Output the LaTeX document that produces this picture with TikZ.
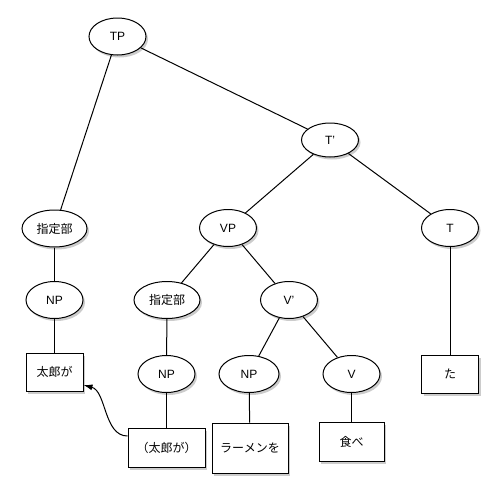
\documentclass[tikz,border=0pt]{standalone}
\usepackage{fontspec}
\setmainfont{Liberation Sans}
\newfontfamily\jp{Noto Sans CJK JP}
\usetikzlibrary{arrows.meta,shapes.geometric,shadows}

\begin{document}
\begin{tikzpicture}
[x=1pt,y=-1pt,>={Latex[length=9pt,width=6pt]},line width=1pt,
  phrase/.style={ellipse,draw,fill=white,inner sep=0pt,minimum width=57pt,minimum height=37pt,
    font=\fontsize{12}{14}\selectfont,drop shadow={shadow xshift=2pt,shadow yshift=-2.5pt,opacity=0.4}},
  word/.style={rectangle,draw,fill=white,inner sep=0pt,minimum width=57pt,minimum height=38pt,
    font=\jp\fontsize{12}{14}\selectfont,drop shadow={shadow xshift=2pt,shadow yshift=-2.5pt,opacity=0.4}}]

  \useasboundingbox (0,0) rectangle (500,498);

  \node[phrase] (tp) at 		(117.5,36.5) 	{TP};
  \node[phrase,minimum height=34pt] (tbar) at 	(330,140) 	{T'};

  \node[phrase,minimum width=65pt] (spec1) at 	(54.5,228.5) 	{\jp 指定部};
  \node[phrase] (np1) at 		(54.5,300) 	{NP};
  \node[word] (taro) at 		(54.5,372) 	{太郎が};

  \node[phrase] (vp) at 		(228,228) 	{VP};
  \node[phrase] (t) at 			(450,228) 	{T};
  \node[word] (ta) at 			(450,374) 	{た};

  \node[phrase,minimum width=66pt] (spec2) at 	(167,300) 	{\jp 指定部};
  \node[phrase] (vbar) at 		(289,300) 	{V'};
  \node[phrase] (np2) at 		(166.5,374) 	{NP};
  \node[phrase,minimum width=60pt] (np3) at 	(249,374) 	{NP};
  \node[phrase] (v) at 			(351.5,374) 	{V};

  \node[word,minimum width=77pt,minimum height=39pt] (copy) at 	(166.5,447.5) 	{（太郎が）};
  \node[word,minimum width=76pt,minimum height=50pt] (ramen) at 	(250,448) 	{ラーメンを};
  \node[word,minimum width=65pt,minimum height=39pt] (tabe) at 	(351.5,442) 	{食べ};

  \foreach \from/\to in {tp/spec1,tp/tbar,spec1/np1,np1/taro,tbar/vp,tbar/t,t/ta,vp/spec2,vp/vbar,
      spec2/np2,np2/copy,vbar/np3,vbar/v,np3/ramen,v/tabe}
    \draw (\from) -- (\to);

  \draw[->] ([yshift=11.5pt]copy.west) to[out=180,in=-15,looseness=0.9] ([yshift=-13pt]taro.east);

\end{tikzpicture}
\end{document}
